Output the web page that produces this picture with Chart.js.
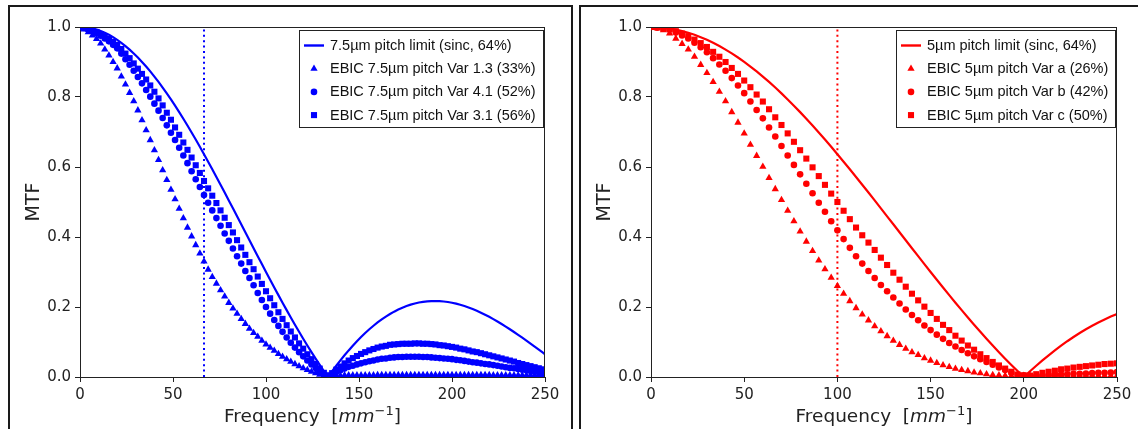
<!DOCTYPE html>
<html>
<head>
<meta charset="utf-8">
<script src="https://cdn.jsdelivr.net/npm/chart.js@4.4.0/dist/chart.umd.min.js"></script>
<style>
  html, body { margin: 0; padding: 0; background: #fff; overflow: hidden; }
  body { width: 1138px; height: 429px; position: relative; }
  .frame { position: absolute; border: 2px solid #1a1a1a; box-sizing: border-box; }
  #frameL { left: 8px; top: 5px; width: 565px; height: 470px; }
  #frameR { left: 579px; top: 5px; width: 600px; height: 470px; }
  canvas { position: absolute; top: 0; }
  #chartL { left: 0; }
  #chartR { left: 575px; }
</style>
</head>
<body>
<div class="frame" id="frameL"></div>
<div class="frame" id="frameR"></div>
<canvas id="chartL" width="575" height="429"></canvas>
<canvas id="chartR" width="563" height="429"></canvas>
<script>
// ---- 7.5um pitch panel (left) ----
const freqL = [0, 2.22, 4.44, 6.67, 8.89, 11.11, 13.33, 15.56, 17.78, 20,
  22.22, 24.44, 26.67, 28.89, 31.11, 33.33, 35.56, 37.78, 40,
  42.22, 44.44, 46.67, 48.89, 51.11, 53.33, 55.56, 57.78, 60,
  62.22, 64.44, 66.67, 68.89, 71.11, 73.33, 75.56, 77.78, 80,
  82.22, 84.44, 86.67, 88.89, 91.11, 93.33, 95.56, 97.78, 100,
  102.22, 104.44, 106.67, 108.89, 111.11, 113.33, 115.56, 117.78, 120,
  122.22, 124.44, 126.67, 128.89, 131.11, 133.33, 135.56, 137.78, 140,
  142.22, 144.44, 146.67, 148.89, 151.11, 153.33, 155.56, 157.78, 160,
  162.22, 164.44, 166.67, 168.89, 171.11, 173.33, 175.56, 177.78, 180,
  182.22, 184.44, 186.67, 188.89, 191.11, 193.33, 195.56, 197.78, 200,
  202.22, 204.44, 206.67, 208.89, 211.11, 213.33, 215.56, 217.78, 220,
  222.22, 224.44, 226.67, 228.89, 231.11, 233.33, 235.56, 237.78, 240,
  242.22, 244.44, 246.67, 248.89, 250];

const limitL = [1, 0.9995, 0.9982, 0.9959, 0.9927, 0.9886, 0.9836, 0.9778, 0.9710, 0.9634,
  0.9549, 0.9456, 0.9355, 0.9245, 0.9128, 0.9003, 0.8871, 0.8731, 0.8584,
  0.8430, 0.8270, 0.8103, 0.7931, 0.7752, 0.7568, 0.7379, 0.7185, 0.6987,
  0.6784, 0.6577, 0.6366, 0.6152, 0.5936, 0.5716, 0.5494, 0.5271, 0.5046,
  0.4819, 0.4591, 0.4363, 0.4135, 0.3907, 0.3679, 0.3452, 0.3226, 0.3001,
  0.2778, 0.2557, 0.2339, 0.2123, 0.1910, 0.1700, 0.1494, 0.1291, 0.1093,
  0.0899, 0.0709, 0.0524, 0.0344, 0.0169, 0, 0.0164, 0.0322, 0.0474,
  0.0620, 0.0760, 0.0894, 0.1022, 0.1142, 0.1257, 0.1364, 0.1465, 0.1559,
  0.1646, 0.1727, 0.1801, 0.1867, 0.1928, 0.1981, 0.2028, 0.2068, 0.2101,
  0.2128, 0.2148, 0.2162, 0.2170, 0.2172, 0.2168, 0.2158, 0.2143, 0.2122,
  0.2096, 0.2065, 0.2028, 0.1987, 0.1942, 0.1892, 0.1838, 0.1780, 0.1719,
  0.1654, 0.1586, 0.1515, 0.1441, 0.1365, 0.1286, 0.1206, 0.1123, 0.1039,
  0.0954, 0.0868, 0.0781, 0.0694, 0.0650];

const var13 = [1, .993, .985, .976, .966, .953, .936, .919, .900, .882,
  .859, .836, .812, .788, .762, .734, .705, .677, .648,
  .620, .591, .563, .535, .508, .481, .454, .427, .402,
  .377, .353, .330, .307, .286, .267, .248, .230, .212,
  .196, .181, .166, .152, .138, .126, .115, .104, .093,
  .084, .075, .066, .058, .051, .044, .037, .031, .025,
  .020, .015, .011, .007, .004, .004, .004, .004, .004,
  .005, .005, .005, .005, .005, .005, .005, .005, .006,
  .006, .006, .006, .006, .006, .006, .006, .006, .006,
  .006, .006, .006, .006, .006, .006, .006, .006, .006,
  .006, .006, .006, .006, .006, .006, .006, .006, .006,
  .005, .005, .005, .005, .005, .005, .005, .005, .005,
  .005, .005, .005, .005];

const var41 = [1, .997, .993, .988, .982, .975, .967, .959, .949, .939,
  .924, .908, .892, .875, .857, .839, .820, .801, .781,
  .761, .740, .719, .698, .677, .655, .633, .611, .588,
  .565, .543, .520, .498, .476, .454, .432, .410, .389,
  .367, .345, .324, .303, .283, .262, .240, .220, .200,
  .181, .163, .146, .129, .113, .098, .084, .071, .059,
  .047, .036, .026, .016, .008, .003, .007, .014, .019,
  .024, .029, .032, .036, .039, .042, .045, .047, .050,
  .052, .053, .055, .056, .057, .057, .058, .058, .058,
  .058, .057, .057, .056, .055, .054, .053, .052, .051,
  .049, .048, .046, .044, .042, .041, .039, .037, .036,
  .034, .032, .030, .028, .026, .025, .023, .021, .019,
  .017, .015, .014, .012];

const var31 = [1, .998, .995, .991, .986, .980, .974, .966, .958, .949,
  .937, .924, .911, .896, .881, .866, .850, .833, .815,
  .796, .776, .755, .735, .713, .692, .670, .649, .627,
  .605, .583, .560, .539, .518, .497, .476, .455, .434,
  .413, .391, .370, .349, .328, .308, .287, .266, .245,
  .225, .205, .185, .166, .148, .130, .113, .096, .081,
  .065, .051, .037, .024, .012, .004, .011, .021, .030,
  .039, .047, .054, .060, .066, .071, .076, .080, .084,
  .087, .089, .092, .093, .094, .095, .095, .095, .096,
  .096, .095, .095, .094, .093, .091, .090, .088, .086,
  .084, .081, .079, .076, .073, .071, .068, .065, .062,
  .059, .056, .053, .050, .047, .044, .040, .037, .034,
  .031, .028, .025, .022];

const nyqL = 66.67;
const namesL = ['7.5\u00b5m pitch limit (sinc, 64%)', 'EBIC 7.5\u00b5m pitch Var 1.3 (33%)',
  'EBIC 7.5\u00b5m pitch Var 4.1 (52%)', 'EBIC 7.5\u00b5m pitch Var 3.1 (56%)'];

// ---- 5um pitch panel (right) ----
const freqR = [0, 3.33, 6.67, 10, 13.33, 16.67, 20, 23.33, 26.67, 30,
  33.33, 36.67, 40, 43.33, 46.67, 50, 53.33, 56.67, 60, 63.33,
  66.67, 70, 73.33, 76.67, 80, 83.33, 86.67, 90, 93.33, 96.67,
  100, 103.33, 106.67, 110, 113.33, 116.67, 120, 123.33, 126.67, 130,
  133.33, 136.67, 140, 143.33, 146.67, 150, 153.33, 156.67, 160, 163.33,
  166.67, 170, 173.33, 176.67, 180, 183.33, 186.67, 190, 193.33, 196.67,
  200, 203.33, 206.67, 210, 213.33, 216.67, 220, 223.33, 226.67, 230,
  233.33, 236.67, 240, 243.33, 246.67, 250];

const limitR = [1, .9995, .9982, .9959, .9927, .9886, .9836, .9778, .9710, .9634,
  .9549, .9456, .9355, .9245, .9128, .9003, .8871, .8731, .8584, .8430,
  .8270, .8103, .7931, .7752, .7568, .7379, .7185, .6987, .6784, .6577,
  .6366, .6152, .5936, .5716, .5494, .5271, .5046, .4819, .4591, .4363,
  .4135, .3907, .3679, .3452, .3226, .3001, .2778, .2557, .2339, .2123,
  .1910, .1700, .1494, .1291, .1093, .0899, .0709, .0524, .0344, .0169,
  0, .0164, .0322, .0474, .0620, .0760, .0894, .1022, .1142, .1257,
  .1364, .1465, .1559, .1646, .1727, .1801];

const varA = [1, .998, .991, .982, .967, .952, .936, .915, .892, .869,
  .843, .815, .788, .757, .727, .696, .664, .632, .601, .569,
  .537, .506, .475, .445, .416, .387, .360, .333, .308, .284,
  .260, .238, .217, .197, .179, .162, .145, .131, .117, .104,
  .092, .081, .071, .063, .054, .047, .040, .034, .029, .024,
  .020, .017, .013, .011, .008, .006, .005, .004, .004, .004,
  .004, .004, .004, .004, .004, .004, .004, .004, .004, .004,
  .004, .004, .004, .004, .004, .004];

const varB = [1, .998, .995, .992, .984, .976, .967, .955, .942, .928,
  .911, .893, .875, .854, .833, .811, .787, .763, .739, .713,
  .687, .660, .633, .606, .579, .552, .525, .498, .472, .445,
  .419, .394, .369, .345, .324, .303, .283, .263, .245, .227,
  .210, .193, .177, .162, .147, .134, .121, .109, .097, .087,
  .077, .068, .059, .051, .043, .035, .027, .020, .013, .006,
  .004, .003, .003, .004, .005, .006, .007, .008, .009, .009,
  .010, .011, .012, .012, .013, .014];

const varC = [1, .999, .997, .994, .988, .981, .974, .964, .954, .943,
  .929, .915, .900, .883, .866, .847, .828, .807, .787, .765,
  .742, .720, .696, .672, .648, .624, .599, .574, .549, .524,
  .500, .475, .451, .427, .405, .384, .363, .341, .320, .298,
  .278, .258, .238, .219, .201, .183, .166, .149, .134, .118,
  .104, .090, .078, .065, .054, .043, .033, .024, .015, .007,
  .005, .004, .008, .012, .015, .018, .022, .024, .027, .029,
  .031, .033, .035, .037, .038, .039];

const nyqR = 100;
const namesR = ['5\u00b5m pitch limit (sinc, 64%)', 'EBIC 5\u00b5m pitch Var a (26%)',
  'EBIC 5\u00b5m pitch Var b (42%)', 'EBIC 5\u00b5m pitch Var c (50%)'];

const xTicks = [0, 50, 100, 150, 200, 250];
const yTicks = [0, 0.2, 0.4, 0.6, 0.8, 1.0];

Chart.defaults.font.family = '"DejaVu Sans", sans-serif';
Chart.defaults.font.size = 15;
Chart.defaults.color = '#222';

const markerStyles = [
  { pointStyle: 'triangle', radius: 4.2 },
  { pointStyle: 'circle', radius: 3.3 },
  { pointStyle: 'rect', radius: 4.3 }
];

function decor(o) {
  return {
    id: 'decor',
    afterDraw(chart) {
      const ctx = chart.ctx;
      const a = chart.chartArea;
      ctx.save();
      // top and right spines
      ctx.strokeStyle = '#222';
      ctx.lineWidth = 1;
      ctx.beginPath();
      ctx.moveTo(a.left, a.top + 0.5);
      ctx.lineTo(a.right, a.top + 0.5);
      ctx.moveTo(a.right - 0.5, a.top);
      ctx.lineTo(a.right - 0.5, a.bottom);
      ctx.stroke();

      // y title
      ctx.fillStyle = '#222';
      ctx.font = '19px "DejaVu Sans"';
      ctx.textAlign = 'center';
      ctx.textBaseline = 'middle';
      ctx.save();
      ctx.translate(a.left - 46, (a.top + a.bottom) / 2);
      ctx.rotate(-Math.PI / 2);
      ctx.fillText('MTF', 0, 0);
      ctx.restore();

      // x title with mathtext-like unit
      const parts = [
        { t: 'Frequency  [', f: '18.5px "DejaVu Sans"', dy: 0 },
        { t: 'mm', f: 'italic 18.5px "DejaVu Sans"', dy: 0 },
        { t: '\u22121', f: '13px "DejaVu Sans"', dy: -7 },
        { t: ']', f: '18.5px "DejaVu Sans"', dy: 0 }
      ];
      let total = 0;
      parts.forEach(p => { ctx.font = p.f; p.w = ctx.measureText(p.t).width; total += p.w; });
      let px = (a.left + a.right) / 2 - total / 2;
      const base = a.bottom + 45;
      ctx.textAlign = 'left';
      ctx.textBaseline = 'alphabetic';
      parts.forEach(p => { ctx.font = p.f; ctx.fillText(p.t, px, base + p.dy); px += p.w; });

      // legend
      ctx.font = '14.5px "Liberation Sans", Arial, sans-serif';
      const textW = Math.max(...o.names.map(n => ctx.measureText(n).width));
      const boxW = Math.round(5 + 20 + 6 + textW + 7);
      const bx = Math.round(a.right - 2.5 - boxW);
      const by = a.top + 3;
      const bh = 97;
      ctx.fillStyle = '#fff';
      ctx.fillRect(bx, by, boxW, bh);
      ctx.strokeStyle = '#222';
      ctx.lineWidth = 1;
      ctx.strokeRect(bx + 0.5, by + 0.5, boxW, bh);
      o.names.forEach((n, i) => {
        const ry = by + 15.5 + i * 23.2;
        if (i === 0) {
          ctx.strokeStyle = o.color;
          ctx.lineWidth = 2.4;
          ctx.beginPath();
          ctx.moveTo(bx + 5, ry);
          ctx.lineTo(bx + 25, ry);
          ctx.stroke();
        } else {
          const m = markerStyles[i - 1];
          ctx.fillStyle = o.color;
          ctx.strokeStyle = o.color;
          Chart.helpers.drawPoint(ctx, { pointStyle: m.pointStyle, radius: m.radius, rotation: 0, borderWidth: 0 }, bx + 15, ry);
        }
        ctx.fillStyle = '#111';
        ctx.textAlign = 'left';
        ctx.textBaseline = 'middle';
        ctx.fillText(n, bx + 31, ry + 0.5);
      });
      ctx.restore();
    }
  };
}

function markerSet(label, data, color, m) {
  return {
    label: label, data: data, showLine: false,
    pointStyle: m.pointStyle, pointRadius: m.radius,
    pointBackgroundColor: color, pointBorderColor: color, pointBorderWidth: 0
  };
}

function buildPanel(id, o) {
  return new Chart(document.getElementById(id), {
    type: 'line',
    data: {
      labels: o.freq,
      datasets: [
        { label: 'nyquist', data: [{ x: o.nyq, y: 0 }, { x: o.nyq, y: 1 }],
          borderColor: o.color, borderWidth: 2, borderDash: [2, 3.4], pointRadius: 0 },
        markerSet(o.names[3], o.series[2], o.color, markerStyles[2]),
        markerSet(o.names[2], o.series[1], o.color, markerStyles[1]),
        markerSet(o.names[1], o.series[0], o.color, markerStyles[0]),
        { label: o.names[0], data: o.limit, borderColor: o.color, borderWidth: 2.2,
          pointRadius: 0, tension: 0, fill: false }
      ]
    },
    options: {
      responsive: false,
      animation: false,
      events: [],
      layout: { autoPadding: false, padding: { left: 0, top: 27, right: o.padR, bottom: 0 } },
      plugins: { legend: { display: false }, tooltip: { enabled: false } },
      scales: {
        x: {
          type: 'linear', min: 0, max: 250,
          afterFit: s => { s.height = 52; },
          afterBuildTicks: s => { s.ticks = xTicks.map(v => ({ value: v })); },
          ticks: { autoSkip: false, maxRotation: 0, minRotation: 0, padding: 4, color: '#222' },
          grid: { drawOnChartArea: false, drawTicks: true, tickLength: 5, tickColor: '#222', tickWidth: 1 },
          border: { display: true, color: '#222', width: 1 }
        },
        y: {
          type: 'linear', min: 0, max: 1,
          afterFit: s => { s.width = o.axisW; },
          afterBuildTicks: s => { s.ticks = yTicks.map(v => ({ value: v })); },
          ticks: { padding: 4, color: '#222', callback: v => v.toFixed(1) },
          grid: { drawOnChartArea: false, drawTicks: true, tickLength: 5, tickColor: '#222', tickWidth: 1 },
          border: { display: true, color: '#222', width: 1 }
        }
      }
    },
    plugins: [decor(o)]
  });
}

buildPanel('chartL', {
  freq: freqL, limit: limitL, series: [var13, var41, var31], nyq: nyqL,
  names: namesL, color: '#0000ff', axisW: 80, padR: 30
});
buildPanel('chartR', {
  freq: freqR, limit: limitR, series: [varA, varB, varC], nyq: nyqR,
  names: namesR, color: '#ff0000', axisW: 76, padR: 21
});
</script>
</body>
</html>
